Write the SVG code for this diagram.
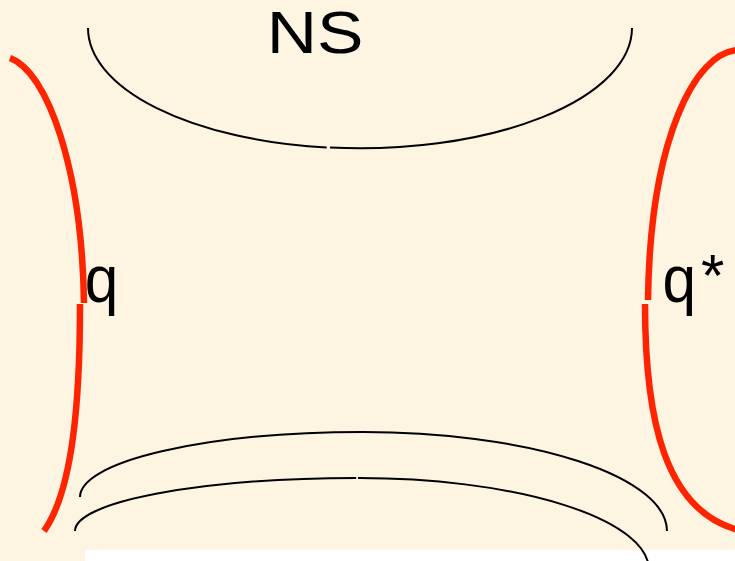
<svg xmlns="http://www.w3.org/2000/svg" width="735" height="561" viewBox="0 0 735 561">
  <style>
    .thin { fill: none; stroke: #000; stroke-width: 2; }
    .red { fill: none; stroke: #FF2400; stroke-width: 6.5; stroke-linecap: butt; }
    .lbl { font-family: "Liberation Sans", Arial, sans-serif; fill: #000; }
  </style>
  <rect x="0" y="0" width="735" height="561" fill="#FDF4E2"/>
  <rect x="85" y="550" width="650" height="11" fill="#FFFFFF"/>

  <g id="connectors">
    <!-- upper bowl -->
    <path class="thin" d="M88,28 A272,120.5 0 0 0 326.7,147.6"/>
    <path class="thin" d="M330,147.6 A272,120.5 0 0 0 632,28"/>
    <!-- lower arches -->
    <path class="thin" d="M80,497 A283,65 0 0 1 363,432 A304,99 0 0 1 667,531"/>
    <path class="thin" d="M75,531 A282,53 0 0 1 356.2,478"/>
    <path class="thin" d="M358,478 A290,92 0 0 1 649,570"/>
  </g>

  <g id="quark-left">
    <path class="red" d="M10,58 C48,72 82,170 84,303"/>
    <path class="red" d="M80,304 C80,400 73,490 44,531"/>
    <text class="lbl" font-size="67" transform="translate(84.8,301.5) scale(0.9,1)">q</text>
  </g>

  <g id="quark-right">
    <path class="red" d="M738,50 C695,52 650,140 648,300"/>
    <path class="red" d="M645,304 C645,420 665,510 738,530"/>
    <text class="lbl" font-size="67" transform="translate(662.5,301.5) scale(0.9,1)">q</text>
    <text class="lbl" font-size="60" x="701" y="296">*</text>
  </g>

  <g id="ns">
    <text class="lbl" font-size="59" transform="translate(266.7,53) scale(1.18,1)">NS</text>
  </g>
</svg>
